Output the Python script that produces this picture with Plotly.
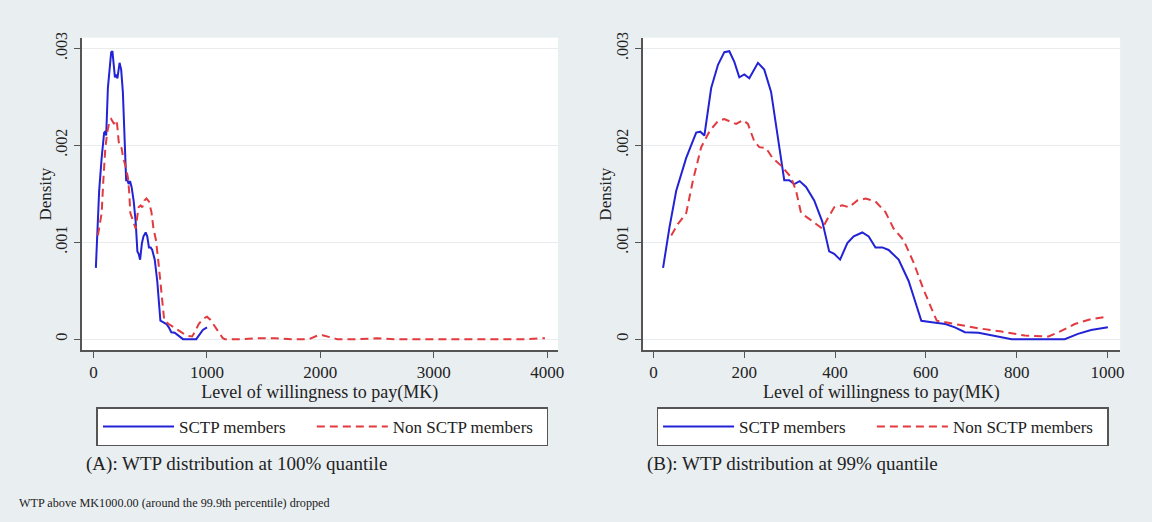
import plotly.graph_objects as go

# ---------------- data ----------------
sctp_x = [21, 35, 50, 72, 94, 103, 112, 127, 142, 156, 167, 178, 189, 200, 211, 230, 244,
          259, 273, 288, 299, 310, 322, 336, 354, 372, 387, 398, 411, 427, 441, 460, 474,
          489, 504, 518, 540, 562, 577, 590, 613, 643, 664, 686, 716, 745, 789, 906, 935,
          964, 1001]
sctp_y = [0.000735, 0.00115, 0.00153, 0.00187, 0.00213, 0.00214, 0.00210, 0.00259, 0.00283,
          0.00296, 0.00297, 0.00286, 0.00270, 0.00273, 0.00269, 0.00285, 0.00278, 0.00255,
          0.00211, 0.00164, 0.00164, 0.00160, 0.00163, 0.00157, 0.00143, 0.00121, 0.000905,
          0.00088, 0.00082, 0.00099, 0.00106, 0.00110, 0.00106, 0.000946, 0.000946, 0.00092,
          0.00082, 0.00060, 0.00038, 0.00019, 0.000175, 0.000156, 0.000122, 0.0000714,
          0.000066, 0.00004, 0.0, 0.0, 0.000054, 0.000095, 0.000122]

non_x = [39, 54, 72, 87, 105, 124, 142, 156, 171, 182, 197, 208, 222, 233, 248, 262, 281,
         303, 314, 325, 343, 361, 372, 383, 398, 416, 431, 449, 467, 489, 511, 529, 551,
         573, 595, 613, 624, 664, 716, 767, 818, 870, 892, 928, 964, 1001]
non_y = [0.00107, 0.00119, 0.00130, 0.00164, 0.00198, 0.00215, 0.00225, 0.00227, 0.00224,
         0.00222, 0.00226, 0.00222, 0.00204, 0.00198, 0.00197, 0.00187, 0.00179, 0.00167,
         0.00153, 0.00130, 0.00124, 0.00118, 0.00114, 0.00124, 0.00136, 0.00138, 0.00136,
         0.00143, 0.00145, 0.00142, 0.00131, 0.00114, 0.00102, 0.00079, 0.00051, 0.00031,
         0.00019, 0.000156, 0.000112, 0.000078, 0.000037, 0.000027, 0.000071, 0.000156,
         0.000207, 0.000231]

# tail of the non-SCTP density, only visible on the full (100%) panel
non_tail_x = [1030, 1060, 1100, 1140, 1160, 1300, 1450, 1600, 1750, 1900, 1980, 2020, 2150,
              2350, 2500, 2650, 3000, 3500, 3800, 3980]
non_tail_y = [0.00020, 0.00015, 0.00007, 0.00001, 0.0, 0.0, 0.00001, 0.00001, 0.0, 0.0,
              0.00004, 0.00004, 0.0, 0.0, 0.00001, 0.0, 0.0, 0.0, 0.0, 0.00001]

series_names = ["SCTP members", "Non SCTP members"]
y_ticks = [0, 0.001, 0.002, 0.003]
y_ticktext = ["0", ".001", ".002", ".003"]
xA_ticks = [0, 1000, 2000, 3000, 4000]
xB_ticks = [0, 200, 400, 600, 800, 1000]

# ---------------- styling ----------------
W, H = 1152, 522
FONT = "Liberation Serif"
BLUE = "#2323d6"
RED = "#e23a3f"
BG = "#e9eef1"
AX = "#555555"
TXT = "#222222"
NB = "\u00a0"
# trailing non-breaking spaces widen the legend entries like the Stata legend box
pad_names = [series_names[0] + NB * 5, series_names[1] + NB * 2]

def px(v):
    return v / W

def py(v):
    return 1 - v / H

fig = go.Figure()

fig.add_trace(go.Scatter(x=sctp_x, y=sctp_y, mode="lines", name=pad_names[0],
                         line=dict(color=BLUE, width=2), xaxis="x", yaxis="y",
                         legend="legend"))
fig.add_trace(go.Scatter(x=non_x + non_tail_x, y=non_y + non_tail_y, mode="lines",
                         name=pad_names[1],
                         line=dict(color=RED, width=2, dash="8px,5px"),
                         xaxis="x", yaxis="y", legend="legend"))
fig.add_trace(go.Scatter(x=sctp_x, y=sctp_y, mode="lines", name=pad_names[0],
                         line=dict(color=BLUE, width=2), xaxis="x2", yaxis="y2",
                         legend="legend2"))
fig.add_trace(go.Scatter(x=non_x, y=non_y, mode="lines", name=pad_names[1],
                         line=dict(color=RED, width=2, dash="8px,5px"),
                         xaxis="x2", yaxis="y2", legend="legend2"))

ydom = [py(348), py(32)]
common_x = dict(showline=True, linecolor=AX, linewidth=1.5, ticks="outside", ticklen=6,
                tickcolor=AX, showgrid=False, zeroline=False,
                tickfont=dict(family=FONT, size=17, color=TXT),
                title=dict(text="Level of willingness to pay(MK)",
                           font=dict(family=FONT, size=18, color=TXT), standoff=1))
common_y = dict(showline=True, linecolor=AX, linewidth=1.5, ticks="outside", ticklen=6,
                tickcolor=AX, showgrid=True, gridcolor="#e8ecee", gridwidth=1,
                zeroline=False, range=[-0.000112, 0.00311], domain=ydom,
                tickvals=y_ticks, ticktext=y_ticktext, tickangle=-90,
                tickfont=dict(family=FONT, size=16, color=TXT))

legend_common = dict(orientation="h", xanchor="left", y=py(406), yanchor="top",
                     bgcolor="white", bordercolor=AX, borderwidth=1.5, itemwidth=71,
                     font=dict(family=FONT, size=17, color=TXT))

fig.update_layout(
    width=W, height=H,
    margin=dict(l=0, r=0, t=0, b=0),
    paper_bgcolor=BG, plot_bgcolor="white",
    font=dict(family=FONT, color=TXT),
    xaxis=dict(domain=[px(82), px(561)], range=[-105, 4096], tickvals=xA_ticks,
               anchor="y", **common_x),
    yaxis=dict(anchor="x", **common_y),
    xaxis2=dict(domain=[px(646), px(1126)], range=[-24, 1028], tickvals=xB_ticks,
                anchor="y2", **common_x),
    yaxis2=dict(anchor="x2", **common_y),
    legend=dict(x=px(97), **legend_common),
    legend2=dict(x=px(660), **legend_common),
)

# y-axis titles
for xc in (46, 609):
    fig.add_annotation(text="Density", xref="paper", yref="paper", x=px(xc), y=py(190),
                       xanchor="center", yanchor="middle", textangle=-90, showarrow=False,
                       font=dict(family=FONT, size=17, color=TXT))

fig.add_annotation(text="(A): WTP distribution at 100% quantile", xref="paper", yref="paper",
                   x=px(84), y=py(463), xanchor="left", yanchor="middle", showarrow=False,
                   font=dict(family=FONT, size=19, color=TXT))
fig.add_annotation(text="(B): WTP distribution at 99% quantile", xref="paper", yref="paper",
                   x=px(648), y=py(463), xanchor="left", yanchor="middle", showarrow=False,
                   font=dict(family=FONT, size=19, color=TXT))
fig.add_annotation(text="WTP above MK1000.00 (around the 99.9th percentile) dropped",
                   xref="paper", yref="paper", x=px(17), y=py(503), xanchor="left",
                   yanchor="middle", showarrow=False,
                   font=dict(family=FONT, size=12.2, color=TXT))

fig.write_html("out.html")
